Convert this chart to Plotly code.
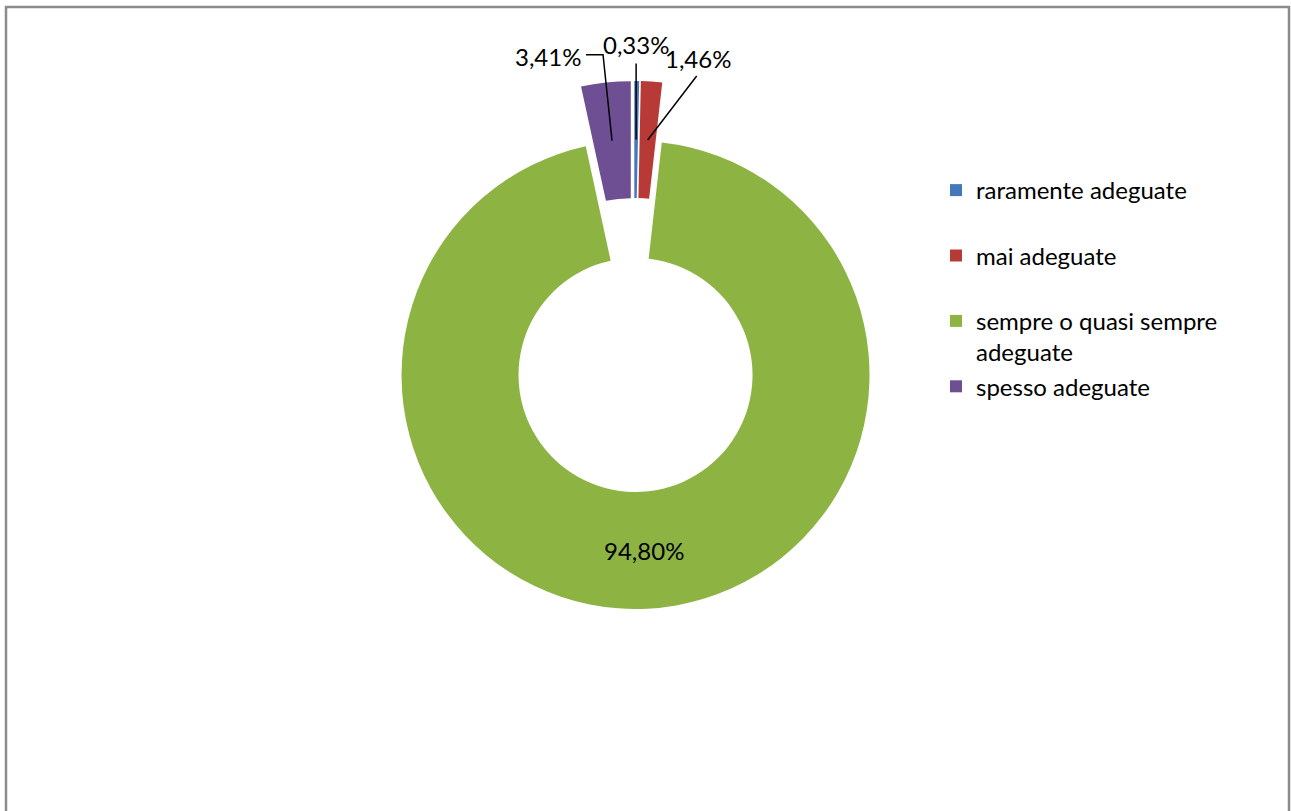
import math
import plotly.graph_objects as go

# ---- data ----
categories = ["raramente adeguate", "mai adeguate", "sempre o quasi sempre adeguate", "spesso adeguate"]
values = [0.33, 1.46, 94.80, 3.41]
legend_names = ["raramente adeguate<br>\u00a0", "mai adeguate<br>\u00a0",
                "sempre o quasi sempre<br>adeguate", "spesso adeguate"]
colors = ["#4479b9", "#b83a37", "#8db443", "#6e4f94"]

# ---- layout geometry (pixels) ----
W, H = 1291, 811
CX, CY = 634, 345          # centre of the un-exploded doughnut
R = 234                    # radius of each slice
PULL_PX = 30               # explosion distance
HOLE = 0.5
FONT = "Lato"
FS = 24

pull = PULL_PX / R
outer = R + PULL_PX
domain_x = [(CX - outer) / W, (CX + outer) / W]
domain_y = [1 - (CY + outer) / H, 1 - (CY - outer) / H]


def px(x):
    return x / W


def py(y):
    return 1 - y / H


def fmt(v):
    return f"{v:.2f}".replace(".", ",") + "%"


fig = go.Figure(go.Pie(
    labels=legend_names,
    values=values,
    sort=False,
    direction="clockwise",
    rotation=0,
    hole=HOLE,
    pull=[pull] * len(values),
    marker=dict(colors=colors, line=dict(width=0)),
    textinfo="none",
    hoverinfo="label+percent",
    domain=dict(x=domain_x, y=domain_y),
))

# label anchor points computed from the slice geometry
total = sum(values)
RM = R * (1 + HOLE) / 2
label_style = {
    0: dict(d=(0, -95), leader=[(0, 19)]),
    1: dict(d=(50, -81), leader=[(-1, 17)]),
    2: dict(d=(0, 0), leader=None),
    3: dict(d=(-64, -84), leader=[(38, -2), (55, -2)]),
}

annotations = []
shapes = []
cum = 0
for i, v in enumerate(values):
    mid = 2 * math.pi * (cum + v / 2) / total
    cum += v
    cx = CX + PULL_PX * math.sin(mid)
    cy = CY - PULL_PX * math.cos(mid)
    ax_ = cx + RM * math.sin(mid)
    ay_ = cy - RM * math.cos(mid)
    st = label_style[i]
    lx, ly = ax_ + st["d"][0], ay_ + st["d"][1]
    annotations.append(dict(
        x=px(lx), y=py(ly), xref="paper", yref="paper",
        text=fmt(v), showarrow=False, xanchor="center", yanchor="middle",
        font=dict(family=FONT, size=FS, color="black"),
    ))
    if st["leader"]:
        pts = [(lx + a, ly + b) for a, b in st["leader"]] + [(ax_, ay_)]
        path = "M " + " L ".join(f"{px(x):.5f},{py(y):.5f}" for x, y in pts)
        shapes.append(dict(type="path", path=path, xref="paper", yref="paper",
                           line=dict(color="black", width=1.5)))

# chart frame
shapes.append(dict(type="rect", xref="paper", yref="paper",
                   x0=px(6), x1=px(1289), y0=py(7), y1=-0.02,
                   line=dict(color="#8c8c8c", width=2.5), fillcolor="rgba(0,0,0,0)"))

fig.update_layout(
    width=W, height=H,
    margin=dict(l=0, r=0, t=0, b=0),
    paper_bgcolor="white", plot_bgcolor="white",
    font=dict(family=FONT, size=FS, color="black"),
    showlegend=True,
    legend=dict(x=px(936), y=py(168), xanchor="left", yanchor="top",
                valign="top", font=dict(family=FONT, size=FS, color="black"),
                tracegroupgap=0, bgcolor="rgba(0,0,0,0)"),
    annotations=annotations,
    shapes=shapes,
)

fig.write_html(
    "out.html",
    config={"displayModeBar": False},
    post_script="document.body.style.margin='0';document.body.style.overflow='hidden';",
)
